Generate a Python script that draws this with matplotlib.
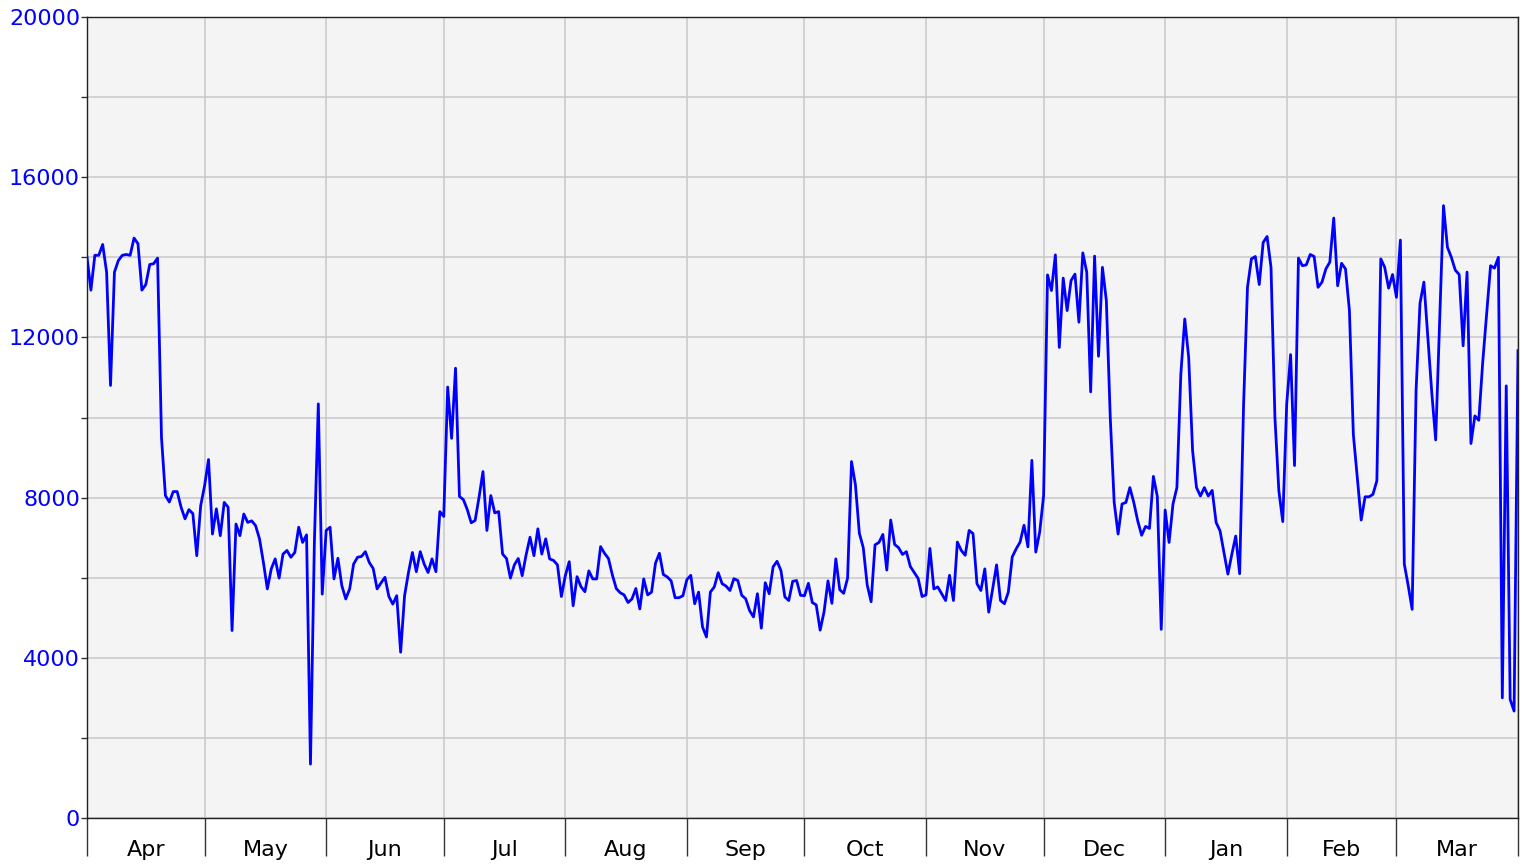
import numpy as np
import matplotlib.pyplot as plt
from matplotlib.ticker import MultipleLocator, FixedLocator, NullFormatter

# daily values, 1 Apr .. 1 Apr (366 points)
apr = [14000, 13180, 14050, 14050, 14320, 13630, 10800, 13630, 13920, 14050,
       14070, 14050, 14480, 14340, 13180, 13320, 13820, 13840, 13980, 9500,
       8050, 7890, 8150, 8150, 7760, 7470, 7700, 7600, 6550, 7800]
may = [8300, 8950, 7090, 7720, 7050, 7880, 7760, 4680, 7340, 7050,
       7590, 7380, 7420, 7300, 6970, 6380, 5720, 6220, 6470, 5990,
       6590, 6680, 6510, 6630, 7260, 6880, 7070, 1345, 6900, 10340, 5590]
jun = [7180, 7260, 5970, 6485, 5800, 5470, 5720, 6340, 6510, 6530,
       6650, 6380, 6230, 5720, 5870, 6010, 5530, 5340, 5550, 4140,
       5550, 6130, 6630, 6150, 6650, 6340, 6130, 6470, 6150, 7650]
jul = [7530, 10760, 9480, 11230, 8030, 7950, 7700, 7370, 7430, 8010,
       8650, 7180, 8050, 7620, 7650, 6590, 6480, 5990, 6320, 6480,
       6050, 6570, 7010, 6550, 7220, 6590, 6970, 6470, 6430, 6320, 5530]
aug = [6050, 6400, 5300, 6025, 5775, 5650, 6170, 5970, 5970, 6775,
       6610, 6480, 6070, 5730, 5625, 5570, 5380, 5470, 5730, 5220,
       5970, 5570, 5640, 6360, 6610, 6080, 6020, 5920, 5500, 5500, 5550]
sep = [5950, 6060, 5350, 5640, 4770, 4520, 5640, 5770, 6125, 5850,
       5790, 5680, 5975, 5930, 5560, 5475, 5180, 5020, 5600, 4740,
       5875, 5600, 6270, 6410, 6180, 5520, 5430, 5910, 5930, 5560]
oct_ = [5550, 5860, 5380, 5320, 4690, 5150, 5920, 5360, 6470, 5700,
        5610, 5990, 8900, 8320, 7110, 6750, 5820, 5400, 6820, 6880,
        7080, 6190, 7440, 6830, 6750, 6580, 6650, 6280, 6130, 5980, 5530]
nov = [5570, 6730, 5720, 5770, 5600, 5430, 6060, 5430, 6890, 6680,
       6560, 7180, 7100, 5850, 5680, 6220, 5140, 5720, 6320, 5430,
       5350, 5640, 6520, 6720, 6890, 7310, 6770, 8930, 6640, 7140]
dec = [8050, 13560, 13170, 14060, 11750, 13480, 12670, 13420, 13580, 12380,
       14110, 13630, 10640, 14030, 11530, 13750, 12920, 10000, 7880, 7090,
       7840, 7880, 8250, 7880, 7420, 7060, 7280, 7230, 8530, 8030, 4710]
jan = [7690, 6880, 7840, 8250, 11080, 12460, 11500, 9170, 8250, 8040,
       8250, 8040, 8180, 7380, 7170, 6630, 6090, 6580, 7040, 6100,
       10300, 13250, 13960, 14020, 13320, 14370, 14520, 13750, 10000, 8170, 7400]
feb = [10330, 11570, 8800, 13980, 13790, 13810, 14070, 14020, 13250, 13380,
       13710, 13880, 14980, 13290, 13850, 13710, 12670, 9580, 8500, 7440,
       8020, 8020, 8080, 8420, 13960, 13750, 13230, 13570]
mar = [13000, 14430, 6340, 5800, 5210, 10670, 12850, 13380, 12000, 10630,
       9440, 12330, 15290, 14250, 14000, 13680, 13570, 11790, 13630, 9350,
       10040, 9930, 11380, 12580, 13790, 13730, 14000, 3000, 10790, 2960,
       2670, 11670]

months = ['Apr', 'May', 'Jun', 'Jul', 'Aug', 'Sep', 'Oct', 'Nov', 'Dec',
          'Jan', 'Feb', 'Mar']
month_days = [30, 31, 30, 31, 31, 30, 31, 30, 31, 31, 28, 31]

values = np.array(apr + may + jun + jul + aug + sep + oct_ + nov + dec
                  + jan + feb + mar)
days = np.arange(len(values))

bounds = np.concatenate([[0], np.cumsum(month_days)])
centers = (bounds[:-1] + bounds[1:]) / 2

plt.rcParams['font.family'] = ['DejaVu Sans']

fig = plt.figure(figsize=(15.27, 8.64), dpi=100)
ax = fig.add_axes([87 / 1527, 1 - 818 / 864, (1518 - 87) / 1527, (818 - 17) / 864])
ax.set_facecolor('#f4f4f4')

ax.plot(days, values, color='#0000ff', lw=2.0, zorder=3)

ax.set_xlim(0, 365)
ax.set_ylim(0, 20000)

ax.yaxis.set_major_locator(MultipleLocator(4000))
ax.yaxis.set_minor_locator(MultipleLocator(2000))
ax.grid(which='both', axis='y', color='#c8c8c8', lw=1.1, zorder=1)

ax.xaxis.set_major_locator(FixedLocator(bounds))
ax.xaxis.set_major_formatter(NullFormatter())
ax.xaxis.set_minor_locator(FixedLocator(centers))
ax.set_xticklabels(months, minor=True)
ax.grid(which='major', axis='x', color='#c8c8c8', lw=1.1, zorder=1)

ax.tick_params(axis='x', which='major', length=27, width=1, color='#333333')
ax.tick_params(axis='x', which='minor', length=0, pad=16, labelsize=16,
               labelcolor='black')
ax.tick_params(axis='y', which='both', length=4, width=1, color='#333333',
               labelsize=16, labelcolor='#0000ff', pad=1)

for s in ax.spines.values():
    s.set_color('#222222')
    s.set_linewidth(1)

fig.savefig('out.png', dpi=100)
